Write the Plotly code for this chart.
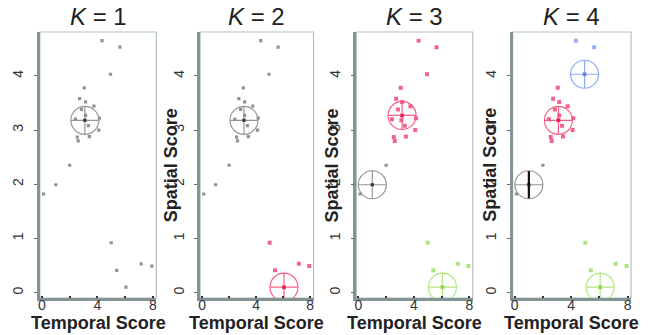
import plotly.graph_objects as go

# Spatio-temporal scores of the observations
temporal = [4.34, 5.63, 4.95,
            3.05, 2.72, 3.15, 3.75, 2.42, 3.15, 3.10, 4.15, 3.35, 4.10, 2.55, 2.62, 3.42, 2.85,
            0.12, 1.00, 2.00,
            5.00, 5.40, 7.16, 7.93, 6.06]
spatial = [4.65, 4.53, 4.03,
           3.78, 3.58, 3.52, 3.44, 3.20, 3.27, 3.18, 3.22, 3.08, 3.00, 2.87, 2.80, 2.88, 3.38,
           1.82, 1.99, 2.35,
           0.92, 0.41, 0.53, 0.49, 0.10]

# Cluster assignment of every observation for K = 1..4
labels_k1 = [0] * 25
labels_k2 = [0] * 20 + [1] * 5
labels_k3 = [1] * 17 + [0] * 3 + [2] * 5
labels_k4 = [3] * 3 + [1] * 14 + [0] * 3 + [2] * 5
labels = [labels_k1, labels_k2, labels_k3, labels_k4]

# Medoid (index into the observations) of each cluster, per K
medoids_k1 = {0: 9}
medoids_k2 = {0: 9, 1: 24}
medoids_k3 = {0: 18, 1: 8, 2: 24}
medoids_k4 = {0: 18, 1: 9, 2: 24, 3: 2}
medoids = [medoids_k1, medoids_k2, medoids_k3, medoids_k4]

panel_titles = ["<i>K</i> = 1", "<i>K</i> = 2", "<i>K</i> = 3", "<i>K</i> = 4"]
x_tickvals = [0, 2, 4, 6, 8]
x_ticktext = ["0", "", "4", "", "8"]
y_tickvals = [0, 1, 2, 3, 4]

point_colors = ["rgba(110,110,110,0.75)", "rgba(240,60,110,0.8)", "rgba(160,225,100,0.85)", "rgba(130,160,240,0.85)"]
point_sizes = [3.2, 4, 4, 4]
ring_colors = ["rgba(140,140,140,0.9)", "rgba(245,80,120,0.9)", "rgba(175,230,120,0.95)", "rgba(135,165,240,0.95)"]
center_colors = ["#333333", "#e0204f", "#8cd050", "#5a80e0"]

W, H = 651, 335
panel_px = [(38, 155), (199, 313), (356, 473), (513, 632)]
top_px, bottom_px = 32, 298
ytitle_px = [None, 170, 332, 490]
y_dom = [1 - bottom_px / H, 1 - top_px / H]

FONT = "Liberation Sans, Arial, sans-serif"

fig = go.Figure()
shapes = []
annotations = []

for p in range(4):
    xa = "x" if p == 0 else f"x{p + 1}"
    ya = "y" if p == 0 else f"y{p + 1}"
    lab = labels[p]
    for c in sorted(set(lab)):
        idx = [i for i, l in enumerate(lab) if l == c]
        fig.add_trace(go.Scatter(
            x=[temporal[i] for i in idx], y=[spatial[i] for i in idx],
            mode="markers", xaxis=xa, yaxis=ya, showlegend=False,
            marker=dict(symbol="square", size=point_sizes[c], color=point_colors[c], line=dict(width=0)),
        ))
    for c, m in medoids[p].items():
        fig.add_trace(go.Scatter(
            x=[temporal[m]], y=[spatial[m]], mode="markers", xaxis=xa, yaxis=ya, showlegend=False,
            marker=dict(symbol="circle-cross-open", size=28, color=ring_colors[c],
                        line=dict(width=1.2, color=ring_colors[c])),
        ))
        fig.add_trace(go.Scatter(
            x=[temporal[m]], y=[spatial[m]], mode="markers", xaxis=xa, yaxis=ya, showlegend=False,
            marker=dict(symbol="square", size=3, color=center_colors[c]),
        ))
    # heavy vertical bar through the grey medoid in the last panel
    if p == 3:
        m = medoids[p][0]
        fig.add_trace(go.Scatter(
            x=[temporal[m], temporal[m]], y=[spatial[m] - 0.25, spatial[m] + 0.25],
            mode="lines", xaxis=xa, yaxis=ya, showlegend=False,
            line=dict(color="#111111", width=2.2),
        ))

    x0, x1 = panel_px[p]
    dom = [x0 / W, x1 / W]
    axis_common = dict(showgrid=False, zeroline=False, showline=True, linecolor="#849494",
                       linewidth=2.5, tickfont=dict(family=FONT, size=14, color="#333333"))
    fig.update_layout(**{
        ("xaxis" if p == 0 else f"xaxis{p + 1}"): dict(
            domain=dom, anchor=ya, range=[-0.15, 8.25], tickvals=x_tickvals, ticktext=x_ticktext,
            ticks="inside", ticklen=2, tickwidth=2, tickcolor="#333333",
            ticklabelstandoff=-8, **axis_common),
        ("yaxis" if p == 0 else f"yaxis{p + 1}"): dict(
            domain=y_dom, anchor=xa, range=[-0.1, 4.81], tickvals=y_tickvals, tickangle=-90,
            ticks="outside", ticklen=3, tickcolor="#666666",
            ticklabelstandoff=5, **axis_common),
    })
    # light frame on top and right sides
    shapes.append(dict(type="rect", xref="paper", yref="paper", x0=dom[0], x1=dom[1],
                       y0=y_dom[0], y1=y_dom[1], line=dict(color="#b4c2c2", width=1.2),
                       layer="below"))
    cx = (x0 + x1) / 2 / W
    annotations.append(dict(text=panel_titles[p], x=cx, y=1 - 17 / H, xref="paper", yref="paper",
                            showarrow=False, xanchor="center", yanchor="middle",
                            font=dict(family=FONT, size=24, color="#222222")))
    annotations.append(dict(text="<b>Temporal Score</b>", x=cx, y=1 - 323 / H, xref="paper",
                            yref="paper", showarrow=False, xanchor="center", yanchor="middle",
                            font=dict(family=FONT, size=18, color="#222222")))
    if ytitle_px[p] is not None:
        annotations.append(dict(text="<b>Spatial Score</b>", x=ytitle_px[p] / W, y=1 - 165 / H,
                                xref="paper", yref="paper", showarrow=False, textangle=-90,
                                xanchor="center", yanchor="middle",
                                font=dict(family=FONT, size=18, color="#222222")))

fig.update_layout(width=W, height=H, margin=dict(l=0, r=0, t=0, b=0),
                  paper_bgcolor="white", plot_bgcolor="white",
                  shapes=shapes, annotations=annotations)

fig.write_html("out.html")
